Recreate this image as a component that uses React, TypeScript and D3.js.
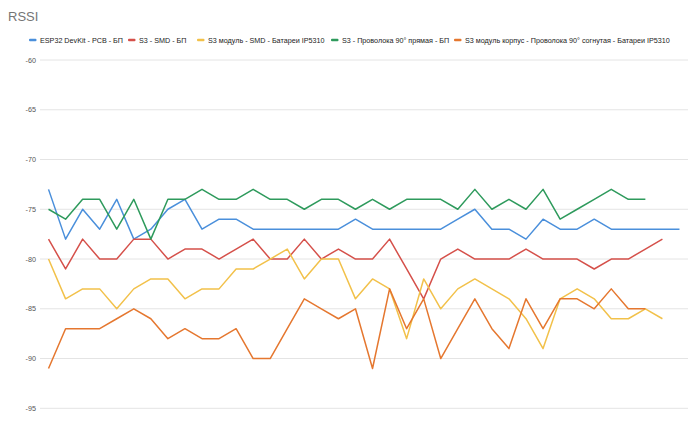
import React from "react";
import * as d3 from "d3";

const title = "RSSI";
const seriesNames = [
  "ESP32 DevKit - PCB - БП",
  "S3 - SMD - БП",
  "S3 модуль - SMD - Батареи IP5310",
  "S3 - Проволока 90° прямая - БП",
  "S3 модуль корпус - Проволока 90° согнутая - Батареи IP5310",
];
const colors = ["#4A8FDB", "#D5504A", "#F2C14A", "#2E9A5C", "#E5772F"];

const categories = d3.range(38).map((i) => String(i + 1));

const esp32Pcb = [-73,-78,-75,-77,-74,-78,-77,-75,-74,-77,-76,-76,-77,-77,-77,-77,-77,-77,-76,-77,-77,-77,-77,-77,-76,-75,-77,-77,-78,-76,-77,-77,-76,-77,-77,-77,-77,-77];
const s3Smd = [-78,-81,-78,-80,-80,-78,-78,-80,-79,-79,-80,-79,-78,-80,-80,-78,-80,-79,-80,-80,-78,-81,-84,-80,-79,-80,-80,-80,-79,-80,-80,-80,-81,-80,-80,-79,-78];
const s3ModSmd = [-80,-84,-83,-83,-85,-83,-82,-82,-84,-83,-83,-81,-81,-80,-79,-82,-80,-80,-84,-82,-83,-88,-82,-85,-83,-82,-83,-84,-86,-89,-84,-83,-84,-86,-86,-85,-86];
const s3Wire = [-75,-76,-74,-74,-77,-74,-78,-74,-74,-73,-74,-74,-73,-74,-74,-75,-74,-74,-75,-74,-75,-74,-74,-74,-75,-73,-75,-74,-75,-73,-76,-75,-74,-73,-74,-74];
const s3ModCase = [-91,-87,-87,-87,-86,-85,-86,-88,-87,-88,-88,-87,-90,-90,-87,-84,-85,-86,-85,-91,-83,-87,-84,-90,-87,-84,-87,-89,-84,-87,-84,-84,-85,-83,-85,-85];

const yTicks = [-60, -65, -70, -75, -80, -85, -90, -95];

const allSeries = [esp32Pcb, s3Smd, s3ModSmd, s3Wire, s3ModCase];
const legendX = [29, 128, 197, 331, 454];

export default function App() {
  const W = 700, H = 421;
  const left = 40, right = 688, top = 60, bottom = 408.3;
  const x = d3.scalePoint<string>().domain(categories).range([left, right]).padding(0.5);
  const y = d3.scaleLinear().domain([-60, -95]).range([top, bottom]);
  const line = d3
    .line<number>()
    .x((_, i) => x(categories[i]) as number)
    .y((d) => y(d));

  return (
    <svg
      width={W}
      height={H}
      style={{ position: "absolute", left: 0, top: 0, background: "#fff" }}
      fontFamily="Arial, 'Liberation Sans', sans-serif"
    >
      <rect x={0} y={0} width={W} height={H} fill="#fff" />
      <text x={8} y={21} fontSize={13} fill="#757575">{title}</text>
      {seriesNames.map((name, i) => (
        <g key={name} transform={`translate(${legendX[i]},40)`}>
          <rect x={0} y={-1.25} width={7.5} height={2.5} rx={1} fill={colors[i]} />
          <text x={11} y={2.6} fontSize={7.2} fill="#222">{name}</text>
        </g>
      ))}
      {yTicks.map((t) => (
        <g key={t}>
          <line x1={left} x2={right} y1={y(t)} y2={y(t)} stroke="#e4e4e4" strokeWidth={1} />
          <text x={36} y={y(t) + 2.6} fontSize={7.2} fill="#555" textAnchor="end">{t}</text>
        </g>
      ))}
      {allSeries.map((s, i) => (
        <path key={i} d={line(s) || ""} fill="none" stroke={colors[i]} strokeWidth={1.5} strokeLinejoin="round" />
      ))}
    </svg>
  );
}
